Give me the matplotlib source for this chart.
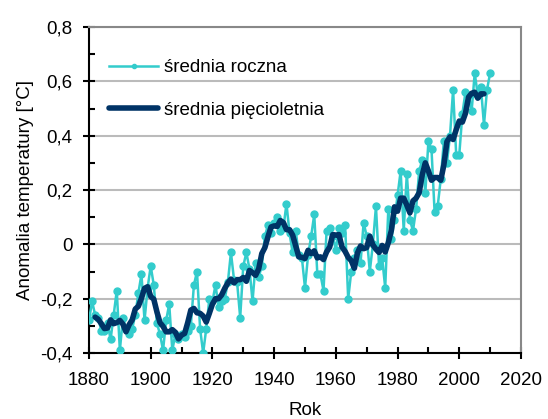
import numpy as np
import matplotlib.pyplot as plt
from matplotlib.ticker import MultipleLocator, FuncFormatter

plt.rcParams['font.family'] = ['Liberation Sans', 'DejaVu Sans']

# roczne anomalie temperatury (GISS), 1880-2010
years = np.arange(1880, 2011)
annual = [-0.28, -0.21, -0.26, -0.27, -0.32, -0.32, -0.29, -0.35, -0.26, -0.17,
          -0.39, -0.27, -0.31, -0.33, -0.31, -0.26, -0.18, -0.11, -0.28, -0.16,
          -0.08, -0.15, -0.29, -0.33, -0.39, -0.28, -0.22, -0.39, -0.33, -0.35,
          -0.33, -0.34, -0.32, -0.30, -0.15, -0.10, -0.31, -0.40, -0.31, -0.20,
          -0.21, -0.15, -0.23, -0.21, -0.20, -0.14, -0.03, -0.13, -0.14, -0.27,
          -0.08, -0.03, -0.09, -0.21, -0.07, -0.12, -0.08, 0.03, 0.07, 0.04,
          0.08, 0.10, 0.05, 0.06, 0.15, 0.04, -0.03, 0.05, -0.04, -0.05,
          -0.16, -0.04, 0.03, 0.11, -0.11, -0.11, -0.17, 0.05, 0.06, 0.03,
          -0.02, 0.06, 0.04, 0.07, -0.20, -0.10, -0.05, -0.02, -0.07, 0.08,
          0.03, -0.10, 0.00, 0.14, -0.08, -0.05, -0.16, 0.13, 0.02, 0.09,
          0.18, 0.27, 0.05, 0.26, 0.09, 0.05, 0.13, 0.27, 0.31, 0.19,
          0.38, 0.35, 0.12, 0.14, 0.24, 0.38, 0.30, 0.40, 0.57, 0.33,
          0.33, 0.48, 0.56, 0.55, 0.49, 0.63, 0.55, 0.58, 0.44, 0.57,
          0.63]

# srednia pieciolenia, 1882-2008
years5 = np.arange(1882, 2009)
five_year = [-0.268, -0.276, -0.292, -0.310, -0.308, -0.278, -0.292, -0.288,
             -0.280, -0.294, -0.322, -0.296, -0.278, -0.238, -0.228, -0.198,
             -0.162, -0.156, -0.192, -0.202, -0.248, -0.288, -0.302, -0.322,
             -0.322, -0.314, -0.324, -0.348, -0.334, -0.328, -0.288, -0.242,
             -0.236, -0.252, -0.254, -0.264, -0.286, -0.254, -0.220, -0.200,
             -0.200, -0.186, -0.162, -0.142, -0.128, -0.142, -0.130, -0.130,
             -0.122, -0.136, -0.096, -0.104, -0.114, -0.090, -0.034, -0.012,
             0.028, 0.064, 0.068, 0.066, 0.088, 0.080, 0.054, 0.054,
             0.034, -0.006, -0.046, -0.048, -0.052, -0.022, -0.034, -0.024,
             -0.050, -0.046, -0.056, -0.028, -0.010, 0.036, 0.034, 0.036,
             -0.010, -0.026, -0.048, -0.060, -0.088, -0.032, -0.006, -0.016,
             -0.012, 0.030, -0.002, -0.018, -0.030, -0.004, -0.028, 0.006,
             0.052, 0.138, 0.122, 0.170, 0.170, 0.144, 0.116, 0.160,
             0.170, 0.190, 0.256, 0.300, 0.270, 0.236, 0.246, 0.246,
             0.236, 0.292, 0.378, 0.396, 0.386, 0.422, 0.454, 0.450,
             0.482, 0.542, 0.556, 0.560, 0.538, 0.554, 0.554]

fig = plt.figure(figsize=(5.48, 4.19), dpi=100)
ax = fig.add_axes([0.1624, 0.1575, 0.7883, 0.778])

ax.plot(years, annual, color='#33CCCC', lw=1.8, marker='o', markersize=5,
        label='średnia roczna', zorder=3)
ax.plot(years5, five_year, color='#003366', lw=4, solid_capstyle='round',
        label='średnia pięcioletnia', zorder=4)

ax.set_xlim(1880, 2020)
ax.set_ylim(-0.4, 0.8)
ax.xaxis.set_major_locator(MultipleLocator(20))
ax.xaxis.set_minor_locator(MultipleLocator(10))
ax.yaxis.set_major_locator(MultipleLocator(0.2))
ax.yaxis.set_minor_locator(MultipleLocator(0.1))
ax.yaxis.set_major_formatter(FuncFormatter(
    lambda v, p: '0' if abs(v) < 1e-9 else ('%.1f' % v).replace('.', ',')))

ax.grid(axis='y', which='major', color='#BBBBBB', lw=1.5, zorder=0)
ax.set_axisbelow(True)
for s in ['top', 'right']:
    ax.spines[s].set_color('#888888')
    ax.spines[s].set_linewidth(1.5)
for s in ['left', 'bottom']:
    ax.spines[s].set_color('black')
    ax.spines[s].set_linewidth(1.5)

ax.tick_params(which='major', direction='inout', length=8, width=1.5, labelsize=13.5)
ax.tick_params(axis='x', which='major', pad=10)
ax.tick_params(axis='y', which='major', pad=8)
ax.tick_params(which='minor', direction='in', length=4, width=1.5)

ax.set_xlabel('Rok', fontsize=13.5, labelpad=9)
ax.set_ylabel('Anomalia temperatury [°C]', fontsize=13.5, labelpad=4)

ax.legend(loc='upper left', frameon=False, fontsize=13.5, handlelength=2.6,
          handletextpad=0.3, labelspacing=1.35, borderaxespad=0.0,
          markerscale=0.6, bbox_to_anchor=(0.03, 0.925))

fig.savefig('out.png', dpi=100)
